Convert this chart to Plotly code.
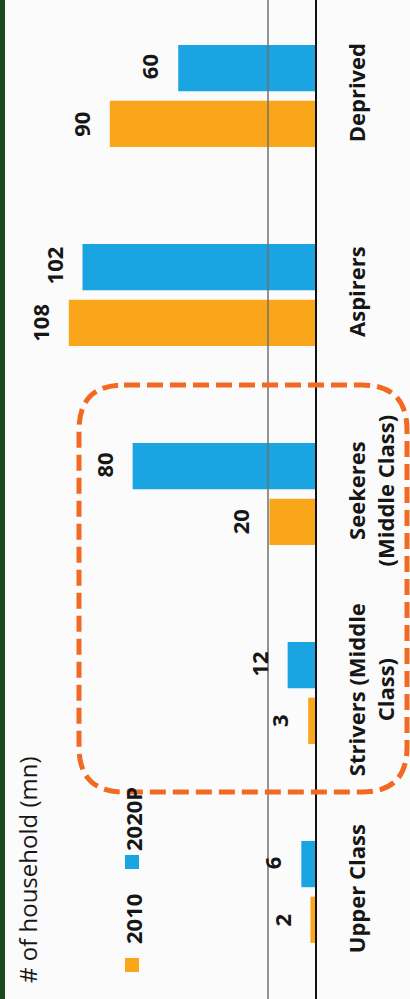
import plotly.graph_objects as go

# ---- data ----
categories = ["Upper Class", "Strivers (Middle<br>Class)", "Seekeres<br>(Middle Class)", "Aspirers", "Deprived"]
values_2010 = [2, 3, 20, 108, 90]
values_2020p = [6, 12, 80, 102, 60]
series_names = ["2010", "2020P"]
title_text = "# of household (mn)"

ORANGE = "#FAA61A"
BLUE = "#1AA4E1"
FONT = "Open Sans"
TEXT = "#161616"

W, H = 410, 999
L, R, T, B = 5, 95, 0, 0
PW = W - L - R
PH = H - T - B


def px_x(p):
    return (p - L) / PW


def px_y(q):
    return 1 - (q - T) / PH


fig = go.Figure()
fig.add_trace(go.Bar(y=categories, x=values_2010, orientation="h", name=series_names[0],
                     marker=dict(color=ORANGE, line=dict(width=0))))
fig.add_trace(go.Bar(y=categories, x=values_2020p, orientation="h", name=series_names[1],
                     marker=dict(color=BLUE, line=dict(width=0))))

annotations = []
for cat, v in zip(categories, values_2010):
    annotations.append(dict(x=v, y=cat, xref="x", yref="y", text=str(v), showarrow=False,
                            textangle=-90, xshift=-29, yshift=-28, xanchor="center", yanchor="middle",
                            font=dict(family=FONT, size=22, color=TEXT, weight="bold")))
for cat, v in zip(categories, values_2020p):
    annotations.append(dict(x=v, y=cat, xref="x", yref="y", text=str(v), showarrow=False,
                            textangle=-90, xshift=-29, yshift=29, xanchor="center", yanchor="middle",
                            font=dict(family=FONT, size=22, color=TEXT, weight="bold")))

# legend (rotated, as in the reference)
legend_items = [(series_names[0], ORANGE, 965, 919), (series_names[1], BLUE, 862, 819)]
shapes = []
for name, col, sq_y, txt_y in legend_items:
    annotations.append(dict(x=px_x(133), y=px_y(txt_y), xref="paper", yref="paper", showarrow=False,
                            textangle=-90, xanchor="center", yanchor="middle", text=name,
                            font=dict(family=FONT, size=22, color=TEXT, weight="bold")))
    shapes.append(dict(type="rect", xref="paper", yref="paper",
                       x0=px_x(125), x1=px_x(139), y0=px_y(sq_y + 7), y1=px_y(sq_y - 7),
                       fillcolor=col, line=dict(width=0), layer="above"))
# axis title
annotations.append(dict(
    x=px_x(27), y=px_y(870), xref="paper", yref="paper", showarrow=False, textangle=-90,
    xanchor="center", yanchor="middle",
    text=title_text, font=dict(family=FONT, size=24, color=TEXT)))

# left green page edge
shapes.append(dict(type="rect", xref="paper", yref="paper", x0=px_x(0), x1=px_x(5), y0=0, y1=1,
                   fillcolor="#1d4a1d", line=dict(width=0), layer="above"))
# gray crease line
shapes.append(dict(type="line", xref="paper", yref="paper", x0=px_x(268), x1=px_x(268), y0=0, y1=1,
                   line=dict(color="#707070", width=1.5), layer="above"))
# dashed rounded highlight box
x0, x1, y0, y1, r = 79, 407, 385, 792, 45
pts = lambda a, b: f"{px_x(a):.5f},{px_y(b):.5f}"
path = (f"M {pts(x0 + r, y0)} L {pts(x1 - r, y0)} Q {pts(x1, y0)} {pts(x1, y0 + r)} "
        f"L {pts(x1, y1 - r)} Q {pts(x1, y1)} {pts(x1 - r, y1)} "
        f"L {pts(x0 + r, y1)} Q {pts(x0, y1)} {pts(x0, y1 - r)} "
        f"L {pts(x0, y0 + r)} Q {pts(x0, y0)} {pts(x0 + r, y0)} Z")
shapes.append(dict(type="path", xref="paper", yref="paper", path=path,
                   line=dict(color="#F26A22", width=5, dash="16px,7px"), layer="above"))

fig.update_layout(
    width=W, height=H,
    margin=dict(l=L, r=R, t=T, b=B, pad=0),
    paper_bgcolor="#fbfbfb", plot_bgcolor="rgba(0,0,0,0)",
    barmode="group", bargap=0.44, bargroupgap=0.17,
    showlegend=False,
    xaxis=dict(range=[136, 0], showgrid=False, zeroline=False, showticklabels=False,
               showline=False, ticks="", fixedrange=True),
    yaxis=dict(side="right", range=[-0.538, 4.482], showgrid=False, zeroline=False,
               showline=True, linecolor="#111111", linewidth=1.5, ticks="",
               tickangle=-90, ticklabelstandoff=22,
               tickfont=dict(family=FONT, size=22, color=TEXT, weight="bold")),
    annotations=annotations,
    shapes=shapes,
)

fig.write_html("out.html")
